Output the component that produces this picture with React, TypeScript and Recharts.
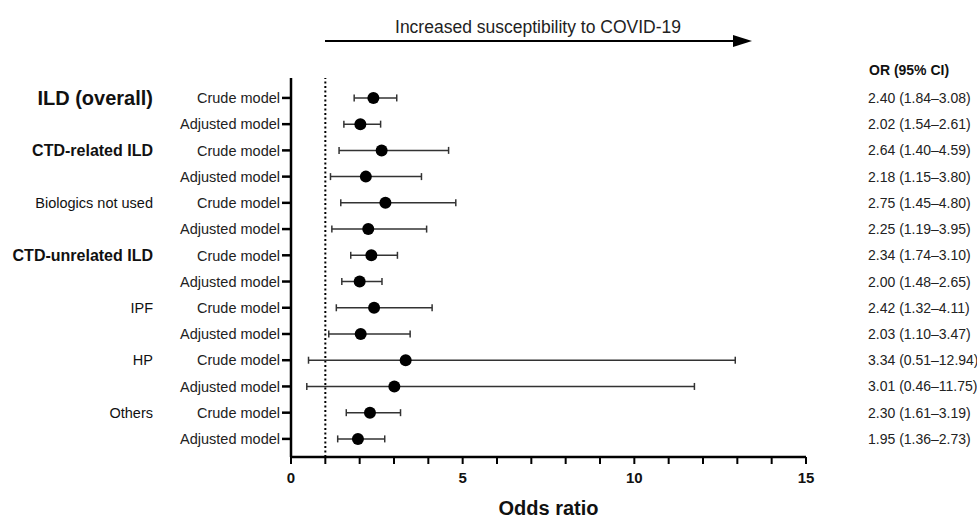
import React from 'react';
import { ScatterChart, Scatter, XAxis, YAxis, ErrorBar, ReferenceLine, Label } from 'recharts';

const FONT = '"Liberation Sans", Arial, Helvetica, sans-serif';

const groupLabels = ['ILD (overall)', 'CTD-related ILD', 'Biologics not used', 'CTD-unrelated ILD', 'IPF', 'HP', 'Others'];
const modelLabels = ['Crude model', 'Adjusted model'];
const oddsRatios = [2.40, 2.02, 2.64, 2.18, 2.75, 2.25, 2.34, 2.00, 2.42, 2.03, 3.34, 3.01, 2.30, 1.95];
const ciLower = [1.84, 1.54, 1.40, 1.15, 1.45, 1.19, 1.74, 1.48, 1.32, 1.10, 0.51, 0.46, 1.61, 1.36];
const ciUpper = [3.08, 2.61, 4.59, 3.80, 4.80, 3.95, 3.10, 2.65, 4.11, 3.47, 12.94, 11.75, 3.19, 2.73];
const xTicks = [0, 1, 2, 3, 4, 5, 6, 7, 8, 9, 10, 11, 12, 13, 14, 15];
const xLabeledTicks = [0, 5, 10, 15];
const referenceOR = 1;
const annotationText = 'Increased susceptibility to COVID-19';
const columnHeader = 'OR (95% CI)';
const xAxisTitle = 'Odds ratio';

const rows = oddsRatios.map((or, i) => ({
  idx: i,
  group: i % 2 === 0 ? groupLabels[i / 2] : '',
  model: modelLabels[i % 2],
  or,
  err: [or - ciLower[i], ciUpper[i] - or],
  ci: `${or.toFixed(2)} (${ciLower[i].toFixed(2)}\u2013${ciUpper[i].toFixed(2)})`,
}));
const rowTicks = rows.map((r) => r.idx);

const groupStyle = (g: string) => {
  if (g === 'ILD (overall)') return { fontSize: 20, fontWeight: 700 };
  if (g.startsWith('CTD')) return { fontSize: 16, fontWeight: 700 };
  return { fontSize: 14.5, fontWeight: 400 };
};

const LeftTick = (props: any) => {
  const { x, y, payload } = props;
  const row = rows[payload.value];
  if (!row) return null;
  const gs = groupStyle(row.group);
  return (
    <g>
      <text x={x} y={y} dy="0.36em" textAnchor="end" fontSize={14.5} fill="#222" fontFamily={FONT}>
        {row.model}
      </text>
      {row.group ? (
        <text x={153} y={y} dy="0.36em" textAnchor="end" fontSize={gs.fontSize} fontWeight={gs.fontWeight} fill="#111" fontFamily={FONT}>
          {row.group}
        </text>
      ) : null}
    </g>
  );
};

const RightTick = (props: any) => {
  const { x, y, payload } = props;
  const row = rows[payload.value];
  if (!row) return null;
  return (
    <text x={x} y={y} dy="0.36em" textAnchor="start" fontSize={14} fill="#222" fontFamily={FONT}>
      {row.ci}
    </text>
  );
};

const Dot = (props: any) => <circle cx={props.cx} cy={props.cy} r={6} fill="#000" />;

export default function App() {
  return (
    <div style={{ position: 'absolute', left: 0, top: 0, width: 977, height: 520, background: '#fff', fontFamily: FONT }}>
      <ScatterChart width={977} height={520} margin={{ top: 78, right: 0, bottom: 0, left: 0 }}>
        <XAxis
          type="number"
          dataKey="or"
          domain={[0, 15]}
          ticks={xTicks}
          interval={0}
          allowDataOverflow
          height={63}
          tickSize={7}
          tickMargin={8}
          axisLine={{ stroke: '#000', strokeWidth: 2.5 }}
          tickLine={{ stroke: '#000', strokeWidth: 2 }}
          tickFormatter={(v: number) => (xLabeledTicks.includes(v) ? String(v) : '')}
          tick={{ fontSize: 15, fontWeight: 700, fill: '#111', fontFamily: FONT }}
        >
          <Label value={xAxisTitle} position="insideBottom" offset={5} style={{ fontSize: 20, fontWeight: 700, fill: '#111', fontFamily: FONT }} />
        </XAxis>
        <YAxis
          type="number"
          dataKey="idx"
          domain={[-0.76, 13.69]}
          reversed
          allowDataOverflow
          ticks={rowTicks}
          interval={0}
          width={291}
          tickSize={9}
          tickMargin={2}
          axisLine={{ stroke: '#000', strokeWidth: 2.5 }}
          tickLine={{ stroke: '#000', strokeWidth: 2.5 }}
          tick={<LeftTick />}
        />
        <YAxis
          yAxisId="right"
          orientation="right"
          type="number"
          domain={[-0.76, 13.69]}
          reversed
          allowDataOverflow
          ticks={rowTicks}
          interval={0}
          width={171}
          tickSize={0}
          tickMargin={62}
          axisLine={false}
          tickLine={false}
          tick={<RightTick />}
        />
        <ReferenceLine x={referenceOR} stroke="#000" strokeWidth={2} strokeDasharray="2 2.5" />
        <Scatter data={rows} fill="#000" shape={<Dot />} isAnimationActive={false}>
          <ErrorBar dataKey="err" direction="x" width={3.5} stroke="#333" strokeWidth={1.5} />
        </Scatter>
      </ScatterChart>
      <svg width={977} height={520} style={{ position: 'absolute', left: 0, top: 0, pointerEvents: 'none' }}>
        <text x={538} y={27} dy="0.36em" textAnchor="middle" fontSize={17.5} fill="#222" fontFamily={FONT}>
          {annotationText}
        </text>
        <line x1={325} y1={41} x2={738} y2={41} stroke="#000" strokeWidth={2} />
        <polygon points="733,35 752,41 733,47" fill="#000" />
        <text x={869} y={70} dy="0.36em" textAnchor="start" fontSize={14} fontWeight={700} fill="#111" fontFamily={FONT}>
          {columnHeader}
        </text>
      </svg>
    </div>
  );
}
